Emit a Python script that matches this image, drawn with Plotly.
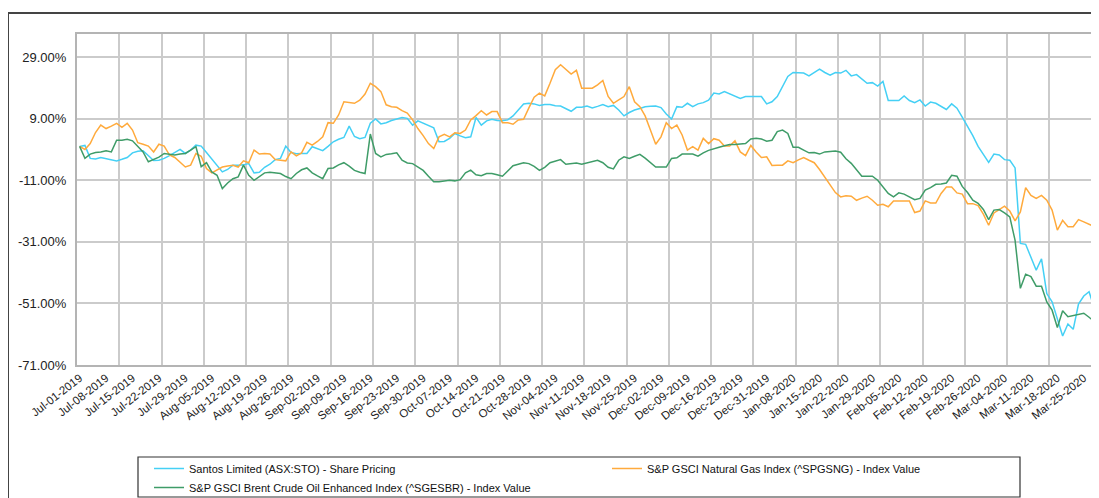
import plotly.graph_objects as go
import pandas as pd

# ---------------- data (percent change since Jul-01-2019) ----------------
santos = [
    0.0, 0.3, -3.9, -4.1, -3.6, -4.0, -4.5, -4.7, -4.2, -3.6,
    -2.1, -1.6, -1.4, -2.9, -4.6, -4.5, -3.9, -3.0, -2.1, -1.0,
    -2.3, -1.2, 0.4, 0.1, -2.0, -4.2, -6.4, -8.3, -7.5, -6.1,
    -6.1, -6.0, -5.6, -8.6, -8.4, -6.8, -5.8, -4.3, -3.9, 0.1,
    -2.0, -2.4, -2.3, -2.3, -0.1, -0.7, -1.4, 0.0, 1.5, 2.3,
    2.9, 6.6, 3.2, 2.5, 2.9, 7.5, 8.9, 7.3, 7.7, 8.4,
    8.8, 9.4, 9.1, 6.9, 8.3, 7.5, 6.8, 6.0, 1.5, 1.6,
    2.6, 4.2, 3.4, 2.8, 3.1, 9.4, 6.9, 8.3, 8.8, 8.4,
    8.3, 8.6, 9.9, 12.0, 13.8, 14.0, 13.8, 13.3, 13.6, 13.6,
    13.2, 13.1, 12.3, 11.4, 12.7, 12.7, 13.1, 12.5, 13.0, 13.6,
    12.9, 13.3, 11.8, 9.9, 11.0, 11.8, 12.3, 12.9, 13.0, 13.1,
    12.6, 10.5, 8.9, 12.9, 12.7, 14.0, 12.9, 13.8, 14.2, 15.0,
    17.3, 17.0, 17.8, 17.0, 16.2, 15.6, 16.2, 16.2, 16.2, 16.2,
    13.8, 14.5, 16.2, 19.5, 22.7, 24.0, 23.9, 23.8, 22.9, 24.0,
    25.1, 24.0, 23.1, 24.0, 23.8, 24.7, 22.9, 23.3, 22.0, 20.5,
    20.7, 19.6, 21.1, 14.9, 14.9, 14.9, 16.4, 14.9, 14.2, 15.1,
    13.1, 14.4, 14.0, 13.0, 12.0, 13.8, 12.4, 9.5, 6.5, 3.5,
    0.0, -2.8, -5.2, -2.5, -2.8, -4.3, -4.5, -7.0, -31.5, -31.8,
    -35.9, -40.2, -36.5, -47.8, -50.5, -56.4, -61.6, -57.7, -59.4, -51.2,
    -48.6, -47.2, -52.6,
]

natgas = [
    0.0, -1.0, 0.9, 4.5, 6.9, 5.8, 6.6, 7.5, 6.2, 7.5,
    5.3, 1.2, 0.7, 0.1, -1.8, 0.7, 0.1, -2.8, -3.6, -5.0,
    -6.7, -6.1, -2.3, -3.2, -7.2, -8.6, -7.7, -6.7, -6.4, -6.1,
    -6.7, -4.7, -5.3, -1.2, -2.5, -2.3, -2.5, -4.3, -4.5, -4.7,
    -1.8, -3.1, -2.1, 1.3, 0.4, 1.6, 3.1, 7.7, 7.5, 10.2,
    14.5, 14.2, 14.0, 15.0, 17.0, 20.5, 19.4, 17.8, 13.5, 12.9,
    12.7, 11.6, 10.8, 8.6, 5.8, 3.5, 0.9, -0.7, 3.1, 3.9,
    3.1, 4.4, 4.2, 5.3, 8.6, 10.0, 11.6, 10.2, 11.3, 11.3,
    7.7, 7.7, 7.2, 8.6, 8.8, 12.5, 16.0, 17.3, 16.4, 20.5,
    24.9, 26.5, 25.1, 23.5, 24.7, 18.9, 18.9, 18.9, 20.0, 21.4,
    16.2, 14.0, 15.1, 16.2, 19.4, 14.5, 12.9, 9.9, 5.3, 0.7,
    3.1, 7.7, 5.8, 6.9, 3.7, -1.2, -0.1, -1.2, 2.6, 0.9,
    2.5, 2.0, 0.1, 0.1, 1.8, -1.8, -3.0, 0.3, -1.8, -3.6,
    -3.4, -6.2, -6.1, -6.1, -4.7, -5.3, -4.4, -3.6, -4.5, -5.3,
    -7.5, -9.9, -12.5, -15.0, -16.4, -16.0, -16.2, -17.5, -16.8, -16.2,
    -17.5, -19.1, -18.8, -19.6, -17.7, -17.7, -17.7, -17.7, -21.5, -21.0,
    -17.7, -18.4, -18.4, -15.3, -13.2, -13.2, -15.1, -15.5, -18.6, -18.6,
    -19.2, -22.0, -25.6, -21.6, -20.5, -19.4, -21.0, -24.2, -21.3, -13.4,
    -15.9, -16.9, -15.9, -17.5, -20.7, -27.2, -24.0, -26.1, -26.1, -23.8,
    -24.5, -25.3, -26.1,
]

brent = [
    0.0, -3.9, -2.5, -2.0, -1.8, -1.4, -1.8, 2.0, 2.0, 2.3,
    1.8, 0.0, -1.8, -5.0, -4.3, -3.5, -2.3, -2.6, -2.8, -2.5,
    -2.3, -1.2, -0.1, -6.6, -5.3, -8.3, -9.4, -13.7, -11.9, -10.5,
    -9.9, -6.1, -9.4, -11.0, -9.9, -8.6, -8.4, -8.5, -8.8, -9.8,
    -10.5, -8.8, -7.6, -7.0, -8.6, -9.6, -10.5, -7.2, -7.0, -6.0,
    -5.3, -6.4, -7.8, -8.4, -8.8, 4.0, -2.3, -3.4, -2.6, -2.4,
    -2.1, -4.5, -5.4, -5.6, -6.8, -7.8, -9.7, -11.5, -11.5, -11.3,
    -11.0, -11.2, -10.8, -8.6, -7.7, -9.2, -9.5, -8.8, -8.8, -9.2,
    -9.7, -8.0, -6.3, -5.8, -5.3, -5.6, -6.5, -7.8, -6.8, -5.3,
    -4.8, -4.3, -5.8, -5.5, -5.4, -5.8, -5.3, -4.9, -4.5, -5.3,
    -6.8, -7.3, -4.5, -3.4, -3.9, -3.2, -2.6, -3.8, -5.3, -6.7,
    -6.7, -6.7, -3.9, -3.7, -2.5, -2.5, -2.5, -3.2, -2.1, -1.3,
    -0.7, -0.3, 0.2, 0.6, 0.6, 0.7, 0.9, 2.4, 2.6, 2.4,
    1.7, 2.0, 4.8, 5.3, 4.2, -0.3, -0.3, -1.2, -2.1, -2.0,
    -2.5, -1.8, -1.6, -1.5, -1.9, -4.0, -5.5, -7.5, -9.7, -9.7,
    -9.7, -11.0, -13.2, -15.3, -16.4, -15.1, -15.5, -16.4, -17.3, -16.9,
    -14.2, -13.4, -12.3, -12.2, -11.9, -9.4, -9.7, -13.0, -15.0, -17.5,
    -18.5, -20.5, -23.8, -20.7, -20.5, -21.6, -22.9, -30.5, -46.1, -41.5,
    -42.3, -45.4, -45.4, -50.5, -53.2, -58.8, -53.4, -55.3, -55.0, -54.5,
    -54.2, -55.5, -56.9,
]

series_names = [
    "Santos Limited (ASX:STO) - Share Pricing",
    "S&P GSCI Natural Gas Index (^SPGSNG) - Index Value",
    "S&P GSCI Brent Crude Oil Enhanced Index (^SGESBR) - Index Value",
]

# trading-day categories (weekdays, no Dec-25 / Jan-01)
dates = [d for d in pd.bdate_range("2019-07-01", "2020-03-27")
         if d.strftime("%m-%d") not in ("12-25", "01-01")]
date_labels = [d.strftime("%b-%d-%Y") for d in dates]
assert len(dates) == len(santos) == len(natgas) == len(brent)

y_tick_values = [-71, -51, -31, -11, 9, 29]
y_tick_text = [f"{v:.2f}%" for v in y_tick_values]

LABEL_STEP = 5   # one label per week
GRID_STEP = 8    # one vertical gridline every 8 categories

# ---------------- figure ----------------
idx = list(range(len(dates)))
tick_idx = idx[::LABEL_STEP]
grid_idx = [i - 0.5 for i in idx[::GRID_STEP]]

FONT = "Liberation Sans, Arial, sans-serif"
colors = ["#45d0f5", "#ffaa3c", "#3f9c68"]

# the page body adds an 8px offset; size the figure so the plot lands
# where it is in the reference window
OFF = 8
W, H = 1099 - OFF, 498 - OFF
L, R, T = 77 - OFF, 2, 34 - OFF
PH = 331
B = H - T - PH
PW = W - L - R


def px_x(px):           # page pixel -> paper fraction
    return (px - OFF - L) / PW


def px_y(py):
    return (T + PH - (py - OFF)) / PH


fig = go.Figure()
for name, vals, col in zip(series_names, [santos, natgas, brent], colors):
    fig.add_trace(go.Scatter(
        x=idx, y=vals, mode="lines", name=name,
        line=dict(color=col, width=1.5),
        customdata=date_labels,
        hovertemplate="%{customdata}: %{y:.2f}%<extra></extra>",
    ))

# dummy trace to carry the gridline axis
fig.add_trace(go.Scatter(x=[0], y=[0], xaxis="x2", mode="markers",
                         marker=dict(opacity=0), showlegend=False, hoverinfo="skip"))

xr = [-0.5, len(idx) - 0.5]
fig.update_layout(
    width=W, height=H,
    margin=dict(l=L, r=R, t=T, b=B, autoexpand=False),
    paper_bgcolor="white", plot_bgcolor="white",
    font=dict(family=FONT, color="#222222"),
    showlegend=True,
    xaxis=dict(
        range=xr, tickmode="array", tickvals=tick_idx,
        ticktext=[date_labels[i] for i in tick_idx],
        tickangle=-38, tickfont=dict(size=11.5, family=FONT, color="#222"),
        showgrid=False, zeroline=False, ticks="",
        showline=True, linecolor="#b4b4b4", linewidth=2, mirror=True,
    ),
    xaxis2=dict(
        range=xr, overlaying="x", tickmode="array", tickvals=grid_idx,
        showticklabels=False, showgrid=True, gridcolor="#cbcbcb", gridwidth=1.5,
        zeroline=False, ticks="", showline=False,
    ),
    yaxis=dict(
        range=[-71, 36.5], tickmode="array", tickvals=y_tick_values, ticktext=y_tick_text,
        tickfont=dict(size=13, family=FONT, color="#222"),
        showgrid=True, gridcolor="#cbcbcb", gridwidth=1.5, zeroline=False, ticks="",
        showline=True, linecolor="#b4b4b4", linewidth=2, mirror=True,
        ticklabelstandoff=6,
    ),
    legend=dict(
        orientation="h", x=px_x(149), y=px_y(454),
        xanchor="left", yanchor="top",
        entrywidth=413, entrywidthmode="pixels",
        bgcolor="rgba(0,0,0,0)", borderwidth=0,
        font=dict(size=11, family=FONT, color="#111"),
        itemwidth=30, tracegroupgap=0,
    ),
    shapes=[
        # outer frame of the chart object
        dict(type="rect", xref="paper", yref="paper",
             x0=px_x(8), x1=px_x(1115), y0=px_y(520), y1=px_y(13),
             line=dict(color="#444444", width=2), layer="below"),
        # legend box
        dict(type="rect", xref="paper", yref="paper",
             x0=px_x(138), x1=px_x(1020), y0=px_y(497), y1=px_y(457),
             line=dict(color="#333333", width=1.2), fillcolor="white", layer="below"),
    ],
)

fig.write_html("out.html")
